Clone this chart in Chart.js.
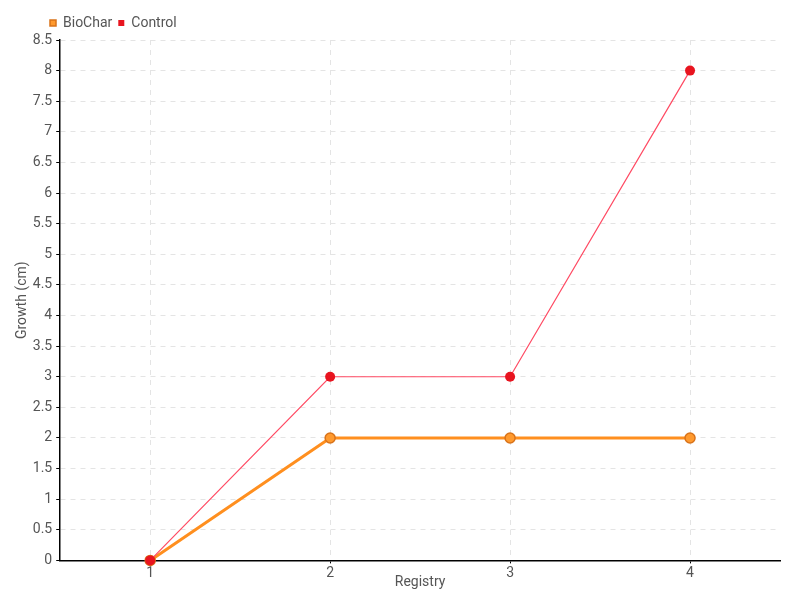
<!DOCTYPE html>
<html>
<head>
<meta charset="utf-8">
<script src="https://cdn.jsdelivr.net/npm/chart.js@4"></script>
<style>
  html, body { margin: 0; padding: 0; background: #fff; }
  #wrap { width: 800px; height: 600px; }
</style>
</head>
<body>
<div id="wrap"><canvas id="line-chart"></canvas></div>
<script>
const registry = ['1', '2', '3', '4'];
const biochar = [0, 2, 2, 2];
const control = [0, 3, 3, 8];

Chart.defaults.font.family = "Roboto, sans-serif";
Chart.defaults.font.size = 14;
Chart.defaults.color = '#555';

// nudge the legend a little to the right, like the original
const legendShift = {
  id: 'legendShift',
  afterLayout(chart) {
    chart.legend.left += 30;
  },
};

const lineChart = document.getElementById('line-chart');
new Chart(lineChart, {
  type: 'line',
  data: {
    labels: registry,
    datasets: [
      {
        label: 'BioChar',
        data: biochar,
        order: 1,
        borderColor: '#ff8f1f',
        backgroundColor: '#ff9a2e',
        borderWidth: 3,
        pointRadius: 5,
        pointBorderWidth: 1.5,
        pointBorderColor: '#d9731a',
        pointBackgroundColor: '#ff9a2e',
        tension: 0,
        clip: false,
      },
      {
        label: 'Control',
        data: control,
        order: 0,
        borderColor: '#ff4a63',
        backgroundColor: '#e8141f',
        borderWidth: 1.2,
        pointRadius: 5,
        pointBorderWidth: 0,
        pointBackgroundColor: '#e8141f',
        tension: 0,
        clip: false,
      },
    ],
  },
  plugins: [legendShift],
  options: {
    animation: false,
    responsive: true,
    maintainAspectRatio: false,
    layout: { padding: { left: 14, right: 20, top: 10, bottom: 3 } },
    plugins: {
      legend: {
        position: 'top',
        align: 'start',
        labels: {
          usePointStyle: true,
          pointStyle: 'rect',
          boxWidth: 6,
          boxHeight: 6,
          padding: 6,
          color: '#555',
          font: { size: 14 },
          sort: (a, b) => a.datasetIndex - b.datasetIndex,
        },
      },
      tooltip: { enabled: false },
    },
    scales: {
      x: {
        offset: true,
        title: { display: true, text: 'Registry', color: '#555', padding: { top: -10, bottom: 6 } },
        grid: {
          offset: false,
          color: '#e4e4e4',
          tickColor: '#000',
          tickLength: 3,
        },
        border: { color: '#000', width: 1.5, dash: [5, 5] },
        ticks: { color: '#555', padding: 2 },
      },
      y: {
        min: 0,
        max: 8.5,
        title: { display: true, text: 'Growth (cm)', color: '#555', padding: { top: 0, bottom: -2 } },
        grid: {
          color: '#e4e4e4',
          tickColor: '#000',
          tickLength: 4,
        },
        border: { color: '#000', width: 1.5, dash: [5, 5] },
        ticks: { stepSize: 0.5, color: '#555', padding: 4, callback: (v) => String(v) },
      },
    },
  },
});
</script>
</body>
</html>
